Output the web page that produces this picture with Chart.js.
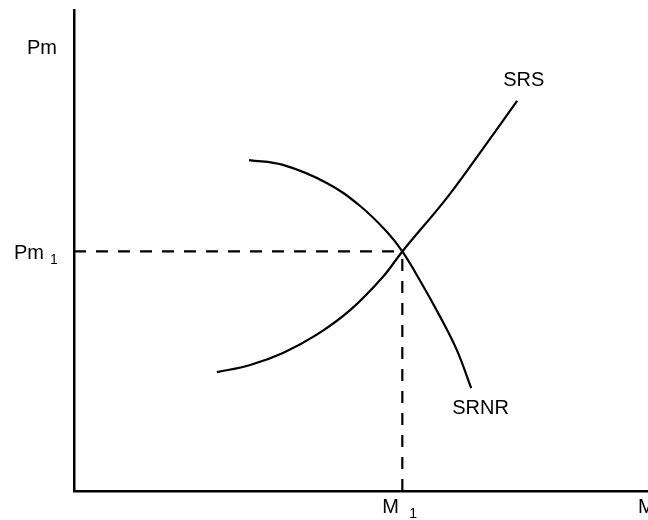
<!DOCTYPE html>
<html>
<head>
<meta charset="utf-8">
<style>
  html, body { margin: 0; padding: 0; background: #fff; }
  #wrap { width: 648px; height: 520px; position: relative; }
</style>
<script src="https://cdn.jsdelivr.net/npm/chart.js@4/dist/chart.umd.min.js"></script>
</head>
<body>
<div id="wrap"><canvas id="c"></canvas></div>
<script>
// ---- data (economic units, axes 0..100) ----
const srsM    = [24.9, 30.7, 36.4, 42.3, 48.1, 53.8, 57.2, 65.2, 72.1, 77.2];
const srsPm   = [24.7, 26.2, 28.7, 32.5, 37.6, 44.5, 49.8, 61.3, 72.6, 81.1];
const srnrM   = [30.5, 36.4, 44.1, 49.8, 54.5, 57.2, 60.4, 63.8, 66.7, 69.2];
const srnrPm  = [68.8, 67.8, 64.0, 59.3, 53.9, 49.8, 43.5, 36.2, 29.3, 21.4];
const eqM1 = 57.2;
const eqPm1 = 49.8;
const axisMax = 100;
const curveNames = ['SRS', 'SRNR'];
const axisNames = { y: 'Pm', x: 'M' };
const eqNames = { y: ['Pm', '1'], x: ['M', '1'] };

const toPts = (xs, ys) => xs.map((x, i) => ({ x: x, y: ys[i] }));

const FONT = '"Liberation Sans", Arial, Helvetica, sans-serif';

const labelPlugin = {
  id: 'econLabels',
  afterDraw(chart) {
    const ctx = chart.ctx;
    const xs = chart.scales.x, ys = chart.scales.y;
    ctx.save();
    ctx.fillStyle = '#000';
    ctx.textBaseline = 'alphabetic';
    ctx.textAlign = 'left';
    const big = '20px ' + FONT, small = '14px ' + FONT;
    // axis names
    ctx.font = big;
    ctx.fillText(axisNames.y, xs.left - 47, ys.top + 44);
    ctx.fillText(axisNames.x, xs.right - 10, ys.bottom + 22);
    // Pm1
    const py = ys.getPixelForValue(eqPm1);
    ctx.font = big;
    ctx.fillText(eqNames.y[0], xs.left - 60, py + 8);
    ctx.font = small;
    ctx.fillText(eqNames.y[1], xs.left - 24, py + 13);
    // M1
    const px = xs.getPixelForValue(eqM1);
    ctx.font = big;
    ctx.fillText(eqNames.x[0], px - 20, ys.bottom + 22);
    ctx.font = small;
    ctx.fillText(eqNames.x[1], px + 7, ys.bottom + 27);
    // curve names
    ctx.font = big;
    const srsEndX = xs.getPixelForValue(srsM[srsM.length - 1]);
    const srsEndY = ys.getPixelForValue(srsPm[srsPm.length - 1]);
    ctx.fillText(curveNames[0], srsEndX - 14, srsEndY - 15);
    const nrEndX = xs.getPixelForValue(srnrM[srnrM.length - 1]);
    const nrEndY = ys.getPixelForValue(srnrPm[srnrPm.length - 1]);
    ctx.fillText(curveNames[1], nrEndX - 19, nrEndY + 26);
    ctx.restore();
  }
};

new Chart(document.getElementById('c'), {
  type: 'scatter',
  data: {
    datasets: [
      { label: 'SRS', data: toPts(srsM, srsPm), showLine: true, borderColor: '#000', borderWidth: 2.2,
        pointRadius: 0, tension: 0.4, fill: false },
      { label: 'SRNR', data: toPts(srnrM, srnrPm), showLine: true, borderColor: '#000', borderWidth: 2.2,
        pointRadius: 0, tension: 0.4, fill: false },
      { label: 'Pm1', data: [{ x: 0, y: eqPm1 }, { x: eqM1, y: eqPm1 }], showLine: true, borderColor: '#000',
        borderWidth: 2.2, borderDash: [12, 10], pointRadius: 0, fill: false },
      { label: 'M1', data: [{ x: eqM1, y: 0 }, { x: eqM1, y: eqPm1 }], showLine: true, borderColor: '#000',
        borderWidth: 2.2, borderDash: [12, 10], pointRadius: 0, fill: false }
    ]
  },
  options: {
    responsive: true,
    maintainAspectRatio: false,
    animation: false,
    events: [],
    layout: { padding: { left: 74, top: 10, right: 0, bottom: 29 } },
    plugins: { legend: { display: false }, tooltip: { enabled: false } },
    scales: {
      x: { type: 'linear', min: 0, max: axisMax,
           grid: { display: false, drawTicks: false },
           border: { display: true, color: '#000', width: 2.5 },
           ticks: { display: false } },
      y: { type: 'linear', min: 0, max: axisMax,
           grid: { display: false, drawTicks: false },
           border: { display: true, color: '#000', width: 2.5 },
           ticks: { display: false } }
    }
  },
  plugins: [labelPlugin]
});
</script>
</body>
</html>
